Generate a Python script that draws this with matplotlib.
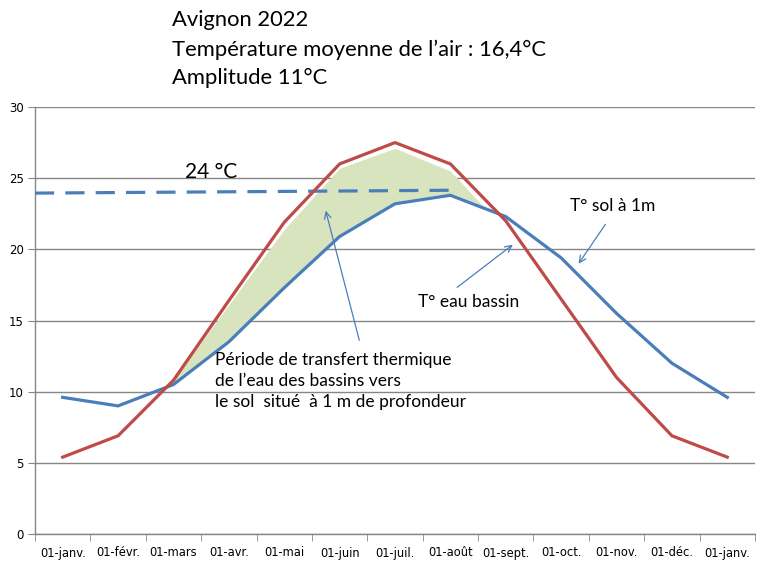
import numpy as np
import matplotlib
matplotlib.use("Agg")
import matplotlib.pyplot as plt

months = ["01-janv.", "01-févr.", "01-mars", "01-avr.", "01-mai", "01-juin", "01-juil.",
          "01-août", "01-sept.", "01-oct.", "01-nov.", "01-déc.", "01-janv."]
t_sol = [9.6, 9.0, 10.5, 13.5, 17.3, 20.9, 23.2, 23.8, 22.3, 19.4, 15.5, 12.0, 9.6]
t_eau = [5.4, 6.9, 10.8, 16.4, 21.9, 26.0, 27.5, 26.0, 22.0, 16.5, 11.0, 6.9, 5.4]
# dashed 24 °C reference
ref_x = [-0.5, 7.0]
ref_y = [23.95, 24.15]
# green "transfer" zone upper edge (hand drawn)
zone_x = [2.0, 3.0, 4.0, 5.0, 6.0, 7.0, 7.6]
zone_top = [10.8, 16.1, 21.4, 25.7, 27.1, 25.5, 23.0]

BLUE = "#4A7EBB"
RED = "#BE4B48"
GREEN = "#D7E4BD"
GRID = "#868686"
FONT = ["Lato", "DejaVu Sans"]

fig = plt.figure(figsize=(7.83, 5.77), dpi=100)
ax = fig.add_axes([35/783, 43/577, 720/783, 427/577])

x = np.arange(len(months))

# green zone
xf = np.linspace(zone_x[0], zone_x[-1], 200)
lower = np.interp(xf, x, t_sol) + 0.15
upper = np.interp(xf, zone_x, zone_top)
ax.fill_between(xf, lower, np.maximum(upper, lower), color=GREEN, lw=0, zorder=2)

ax.plot(ref_x, ref_y, color=BLUE, lw=2.3, dashes=(6, 3.5), zorder=3)
ax.plot(x, t_sol, color=BLUE, lw=2.3, zorder=4, solid_joinstyle="round")
ax.plot(x, t_eau, color=RED, lw=2.3, zorder=4, solid_joinstyle="round")

ax.set_xlim(-0.5, 12.5)
ax.set_ylim(0, 30)
ax.set_yticks(np.arange(0, 31, 5))
ax.yaxis.grid(True, color=GRID, lw=1)
ax.set_axisbelow(True)
for s in ["top", "right"]:
    ax.spines[s].set_visible(False)
for s in ["left", "bottom"]:
    ax.spines[s].set_color(GRID)
    ax.spines[s].set_linewidth(1)

ax.set_xticks(x)
ax.set_xticklabels(months, fontsize=8.3, family=["DejaVu Sans"])
ax.tick_params(axis="x", length=0, pad=9)
ax.set_xticks(np.arange(-0.5, 13, 1), minor=True)
ax.tick_params(axis="x", which="minor", length=5, color=GRID, direction="out")
ax.tick_params(axis="y", length=5, color=GRID, direction="out", labelsize=8.5, pad=3)

def px(xp, yp):
    # figure pixel (from top-left) -> figure fraction
    return (xp/783, 1 - yp/577)

# titles
fig.text(*px(172, 20), "Avignon 2022", fontsize=15.8, family=FONT, va="center")
fig.text(*px(172, 50), "Température moyenne de l’air : 16,4°C", fontsize=15.8, family=FONT, va="center")
fig.text(*px(172, 78), "Amplitude 11°C", fontsize=15.8, family=FONT, va="center")

fig.text(*px(185, 172), "24 °C", fontsize=15, family=FONT, va="center")
fig.text(*px(215, 381), "Période de transfert thermique\nde l’eau des bassins vers\nle sol  situé  à 1 m de profondeur",
         fontsize=12.5, family=FONT, va="center", linespacing=1.35)
fig.text(*px(418, 302), "T° eau bassin", fontsize=12.5, family=FONT, va="center")
fig.text(*px(570, 206), "T° sol à 1m", fontsize=12.5, family=FONT, va="center")

arrowprops = dict(arrowstyle="->", color=BLUE, lw=0.9, mutation_scale=12)
ax.annotate("", xy=px(325, 208), xytext=px(360, 343), xycoords="figure fraction",
            textcoords="figure fraction", arrowprops=arrowprops)
ax.annotate("", xy=px(515, 243), xytext=px(455, 289), xycoords="figure fraction",
            textcoords="figure fraction", arrowprops=arrowprops)
ax.annotate("", xy=px(577, 266), xytext=px(607, 222), xycoords="figure fraction",
            textcoords="figure fraction", arrowprops=arrowprops)

fig.savefig("out.png", dpi=100)
